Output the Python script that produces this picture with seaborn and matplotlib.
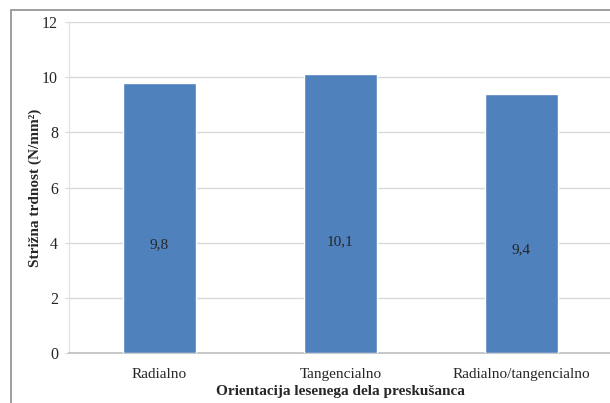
import matplotlib
matplotlib.use("Agg")
import matplotlib.pyplot as plt
import matplotlib.patches as patches
import seaborn as sns
import pandas as pd

# podatki
kategorije = ["Radialno", "Tangencialno", "Radialno/tangencialno"]
vrednosti = [9.8, 10.1, 9.4]
oznake = ["9,8", "10,1", "9,4"]
y_ticks = [0, 2, 4, 6, 8, 10, 12]

df = pd.DataFrame({"orientacija": kategorije, "trdnost": vrednosti})

sns.set_style("white")
plt.rcParams['font.family'] = ['Liberation Serif', 'DejaVu Serif']
plt.rcParams['font.size'] = 11

fig = plt.figure(figsize=(6.10, 4.03), dpi=100)
ax = fig.add_axes([69/610, 50/403, 543/610, 331/403])

# okvir grafa
fig.patches.append(patches.Rectangle((11/610, -0.1), 1.2, 393/403 + 0.1,
                                     transform=fig.transFigure, fill=False,
                                     edgecolor="#8c8c8c", linewidth=1.2, zorder=0))

sns.barplot(data=df, x="orientacija", y="trdnost", color="#4F81BD", width=0.4,
            saturation=1, ax=ax, zorder=3)

for i, (v, t) in enumerate(zip(vrednosti, oznake)):
    ax.text(i, v * 0.4, t, ha="center", va="center", fontsize=11, zorder=4)

ax.set_ylim(0, 12)
ax.set_xlim(-0.5, 2.5)
ax.set_yticks(y_ticks)
ax.yaxis.grid(True, color="#d9d9d9", linewidth=1)
ax.set_axisbelow(True)
ax.set_xticks([-0.5, 0.5, 1.5, 2.5], minor=True)
ax.tick_params(axis="x", which="major", length=0, pad=11)
ax.tick_params(axis="x", which="minor", length=4, color="#bfbfbf", direction="out")
ax.tick_params(axis="y", length=3, color="#d9d9d9", pad=5, left=True, labelsize=11.5)

for s in ["top", "right"]:
    ax.spines[s].set_visible(False)
ax.spines["left"].set_color("#e0e0e0")
ax.spines["bottom"].set_color("#bfbfbf")
ax.spines["bottom"].set_linewidth(1.2)

ax.set_xlabel("Orientacija lesenega dela preskušanca", fontweight="bold", fontsize=11)
ax.set_ylabel("Strižna trdnost (N/mm²)", fontweight="bold", fontsize=11)
ax.yaxis.set_label_coords(-27/543, 0.5)
ax.xaxis.set_label_coords(0.5, -32/331)

fig.savefig("out.png", dpi=100)
